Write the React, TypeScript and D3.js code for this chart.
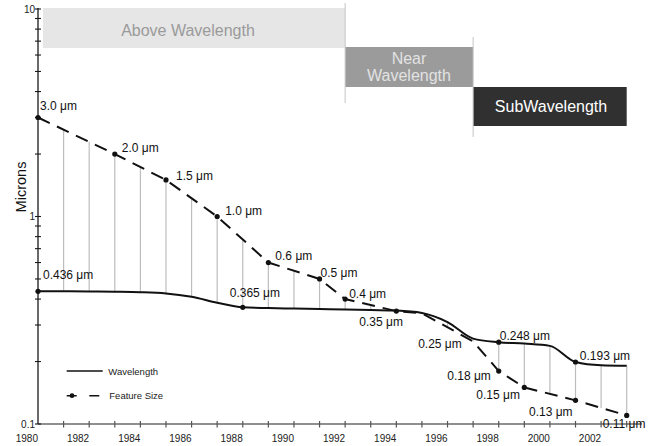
import React from "react";
import * as d3 from "d3";

// ---- data ----
const wavelengthYears = [1980, 1981, 1982, 1983, 1984, 1985, 1986, 1987, 1988, 1989, 1990, 1991, 1992, 1993, 1994, 1995, 1996, 1997, 1998, 1999, 2000, 2001, 2002, 2003];
const wavelengthValues = [0.436, 0.436, 0.435, 0.434, 0.432, 0.426, 0.41, 0.384, 0.365, 0.362, 0.36, 0.358, 0.356, 0.354, 0.352, 0.343, 0.31, 0.258, 0.248, 0.244, 0.238, 0.199, 0.192, 0.191];
const wavelengthLabelYears = [1980, 1988, 1998, 2001];
const wavelengthLabels = ["0.436 μm", "0.365 μm", "0.248 μm", "0.193 μm"];

const featureYears = [1980, 1983, 1985, 1987, 1989, 1991, 1992, 1994, 1995, 1997, 1998, 1999, 2001, 2003];
const featureValues = [3.0, 2.0, 1.5, 1.0, 0.6, 0.5, 0.4, 0.35, 0.342, 0.25, 0.18, 0.15, 0.13, 0.11];
const featureLabels = ["3.0 μm", "2.0 μm", "1.5 μm", "1.0 μm", "0.6 μm", "0.5 μm", "0.4 μm", "0.35 μm", "", "0.25 μm", "0.18 μm", "0.15 μm", "0.13 μm", "0.11 μm"];
const featureDot = [true, true, true, true, true, true, true, true, false, false, true, true, true, true];

const xTickLabels = [1980, 1982, 1984, 1986, 1988, 1990, 1992, 1994, 1996, 1998, 2000, 2002];
const yTickLabels = [0.1, 1, 10];
const eraNames = ["Above Wavelength", "Near\nWavelength", "SubWavelength"];
const eraStartYears = [1980, 1992, 1997];
const eraEndYears = [1992, 1997, 2003];

// ---- layout (not data) ----
const W = 656, H = 446;
const featureLabelOffsets: [number, number][] = [
  [2, -7.5], [7, -2], [10, 0], [8, -1.5], [7, -3], [1, -2], [4, -1.5], [-37, 14.5], [0, 0], [-55, 7], [-51.5, 9], [-48, 11.5], [-46.5, 15.5], [-24, 13],
];
const wavelengthLabelOffsets: [number, number][] = [[5, -12], [-13, -10.5], [1, -2], [4.3, -1.7]];
const eraBoxes = [
  { y0: 8, y1: 48, fill: "#e6e6e6", text: "#9a9a9a", cx: 188, base: [36] },
  { y0: 47, y1: 87, fill: "#9b9b9b", text: "#e2e2e2", cx: 409, base: [63.5, 80.5] },
  { y0: 87, y1: 126, fill: "#303030", text: "#ffffff", cx: 551, base: [112] },
];
const FONT = "'Liberation Sans', Arial, Helvetica, sans-serif";

export default function App() {
  const x = d3.scaleLinear().domain([1980, 2003]).range([38, 626.7]);
  const y = d3.scaleLog().domain([0.1, 10]).range([424, 9]);

  const featureLog = d3.scaleLinear().domain(featureYears).range(featureValues.map((v) => Math.log10(v)));
  const featureAt = (yr: number) => Math.pow(10, featureLog(yr));
  const wavelengthAt = (yr: number) => wavelengthValues[wavelengthYears.indexOf(yr)];

  const solid = d3.line<number>().x((_, i) => x(wavelengthYears[i])).y((v) => y(v)).curve(d3.curveMonotoneX);
  const dashed = d3.line<number>().x((_, i) => x(featureYears[i])).y((v) => y(v));

  const yearTicks = d3.range(1981, 2004);
  const minorY = [...d3.range(2, 10).map((v) => v * 0.1), ...d3.range(2, 10)];

  return (
    <svg width={W} height={H} style={{ position: "absolute", left: 0, top: 0, background: "#fff" }} fontFamily={FONT}>
      {/* era boxes */}
      {eraNames.map((name, i) => {
        const b = eraBoxes[i];
        const x0 = i === 0 ? x(eraStartYears[i]) + 5 : x(eraStartYears[i]);
        const x1 = x(eraEndYears[i]);
        const lines = name.split("\n");
        return (
          <g key={name}>
            <rect x={x0} y={b.y0} width={x1 - x0} height={b.y1 - b.y0} fill={b.fill} />
            {lines.map((t, j) => (
              <text key={j} x={b.cx} y={b.base[j]} textAnchor="middle" fontSize={16} fill={b.text}>{t}</text>
            ))}
          </g>
        );
      })}
      <line x1={x(1992)} x2={x(1992)} y1={3} y2={103} stroke="#c4c4c4" strokeWidth={1} />
      <line x1={x(1997)} x2={x(1997)} y1={37} y2={137} stroke="#c4c4c4" strokeWidth={1} />

      {/* vertical connectors */}
      {yearTicks.map((yr) => (
        <line key={yr} x1={x(yr)} x2={x(yr)} y1={y(featureAt(yr))} y2={y(wavelengthAt(yr))} stroke="#bdbdbd" strokeWidth={1.2} />
      ))}

      {/* x axis */}
      <line x1={38} x2={642} y1={424} y2={424} stroke="#6a6a6a" strokeWidth={1.5} />
      {yearTicks.map((yr) => (
        <line key={"xt" + yr} x1={x(yr)} x2={x(yr)} y1={421} y2={427.5} stroke="#555" strokeWidth={1.2} />
      ))}
      {xTickLabels.map((yr) => (
        <text key={"xl" + yr} x={x(yr)} y={442} textAnchor="end" fontSize={10} fill="#222">{yr}</text>
      ))}

      {/* y axis */}
      <line x1={38} x2={38} y1={8} y2={424} stroke="#1a1a1a" strokeWidth={1.3} />
      {[...yTickLabels, ...minorY].map((v, i) => (
        <line key={"yt" + i} x1={35} x2={41} y1={y(v)} y2={y(v)} stroke="#1a1a1a" strokeWidth={1.1} />
      ))}
      {yTickLabels.map((v) => (
        <text key={"yl" + v} x={35} y={y(v) + 3.8} textAnchor="end" fontSize={10} fill="#222">{String(v)}</text>
      ))}
      <text transform="translate(26,187) rotate(-90)" textAnchor="middle" fontSize={14.5} fill="#111">Microns</text>

      {/* series */}
      <path d={dashed(featureValues) ?? ""} fill="none" stroke="#111" strokeWidth={2} strokeDasharray="13,8" />
      <path d={solid(wavelengthValues) ?? ""} fill="none" stroke="#111" strokeWidth={2} />

      {featureValues.map((v, i) =>
        featureDot[i] ? <circle key={"fd" + i} cx={x(featureYears[i])} cy={y(v)} r={2.6} fill="#111" /> : null
      )}
      {wavelengthLabelYears.map((yr, i) => (
        <circle key={"wd" + i} cx={x(yr)} cy={y(wavelengthAt(yr))} r={2.6} fill="#111" />
      ))}

      {featureLabels.map((t, i) =>
        t ? (
          <text key={"fl" + i} x={x(featureYears[i]) + featureLabelOffsets[i][0]} y={y(featureValues[i]) + featureLabelOffsets[i][1]} fontSize={12} fill="#111">{t}</text>
        ) : null
      )}
      {wavelengthLabels.map((t, i) => (
        <text key={"wl" + i} x={x(wavelengthLabelYears[i]) + wavelengthLabelOffsets[i][0]} y={y(wavelengthAt(wavelengthLabelYears[i])) + wavelengthLabelOffsets[i][1]} fontSize={12} fill="#111">{t}</text>
      ))}

      {/* legend */}
      <line x1={66.7} x2={102.7} y1={371} y2={371} stroke="#111" strokeWidth={1.6} />
      <text x={108.3} y={374.5} fontSize={9.5} fill="#222">Wavelength</text>
      <line x1={66.7} x2={100} y1={395.7} y2={395.7} stroke="#111" strokeWidth={1.6} strokeDasharray="10,12.6" />
      <circle cx={72} cy={395.7} r={2.4} fill="#111" />
      <text x={109.3} y={399} fontSize={9.5} fill="#222">Feature Size</text>
    </svg>
  );
}
